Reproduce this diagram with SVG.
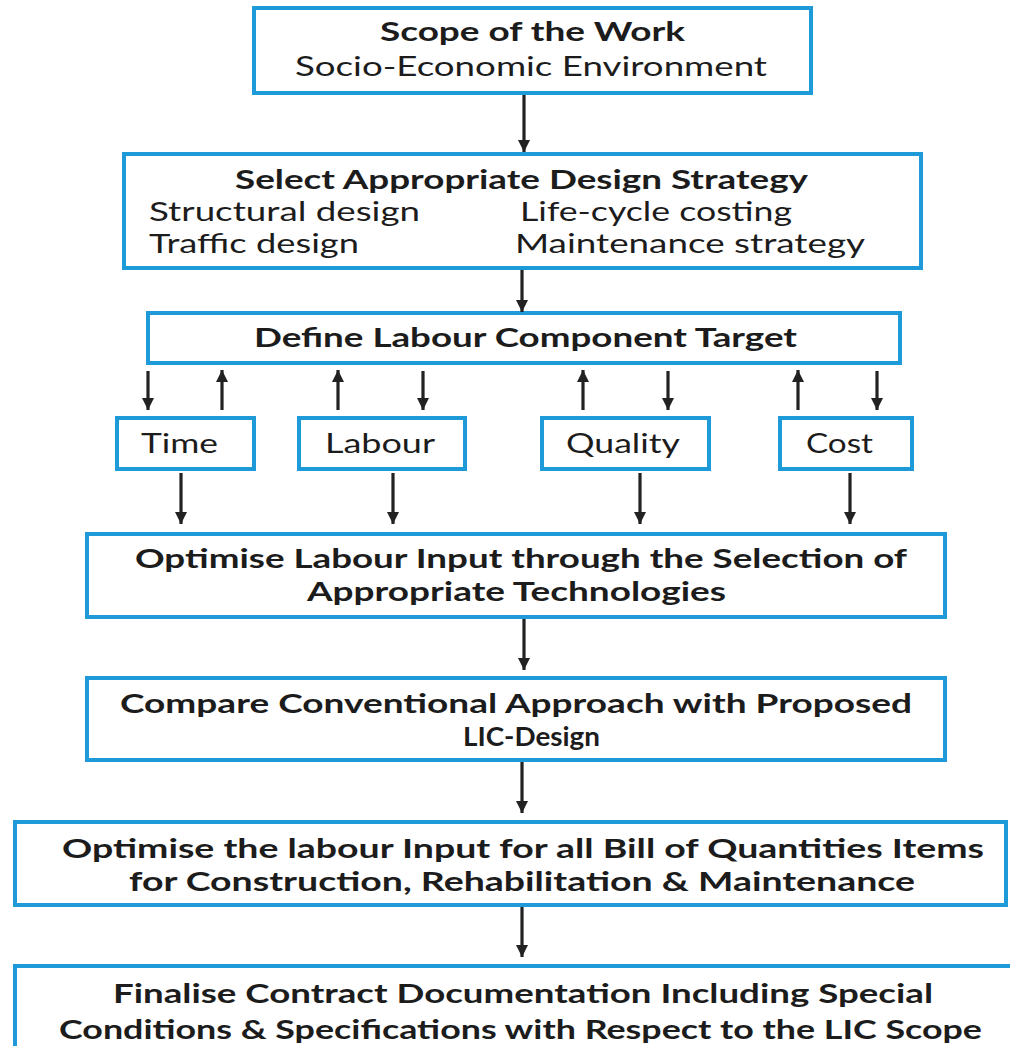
<svg xmlns="http://www.w3.org/2000/svg" width="1010" height="1046" viewBox="0 0 1010 1046">
<style>
.box{fill:#fff;stroke:#1f9ad8;stroke-width:4}
.t{font-family:Lato,"Open Sans","Liberation Sans",sans-serif;font-size:27px;fill:#1c1c1c}
.s{font-size:26.5px}
.b{font-weight:700}
.c{stroke:#222;stroke-width:3.2;fill:none}
</style>
<defs>
<marker id="ah" markerUnits="userSpaceOnUse" markerWidth="14" markerHeight="12" refX="12" refY="6" orient="auto">
<path d="M0,0 L12,6 L0,12 Z" fill="#222"/>
</marker>
</defs>
<rect width="1010" height="1046" fill="#fff"/>

<g id="n1">
<rect class="box" x="254" y="8" width="557" height="85"/>
<text class="t b" x="380" y="41" textLength="305" lengthAdjust="spacingAndGlyphs">Scope of the Work</text>
<text class="t" x="295" y="76" textLength="472" lengthAdjust="spacingAndGlyphs">Socio-Economic Environment</text>
</g>

<g id="n2">
<rect class="box" x="124" y="154" width="797" height="114"/>
<text class="t s b" x="235" y="189" textLength="573" lengthAdjust="spacingAndGlyphs">Select Appropriate Design Strategy</text>
<text class="t s" x="149" y="221" textLength="271" lengthAdjust="spacingAndGlyphs">Structural design</text>
<text class="t s" x="520" y="221" textLength="272" lengthAdjust="spacingAndGlyphs">Life-cycle costing</text>
<text class="t s" x="149" y="253" textLength="210" lengthAdjust="spacingAndGlyphs">Traffic design</text>
<text class="t s" x="515" y="253" textLength="350" lengthAdjust="spacingAndGlyphs">Maintenance strategy</text>
</g>

<g id="n3">
<rect class="box" x="148" y="313" width="752" height="50"/>
<text class="t b" x="254" y="347" textLength="543" lengthAdjust="spacingAndGlyphs">Define Labour Component Target</text>
</g>

<g id="n_time">
<rect class="box" x="117" y="418" width="137" height="51"/>
<text class="t" x="141" y="453" textLength="77" lengthAdjust="spacingAndGlyphs">Time</text>
</g>
<g id="n_labour">
<rect class="box" x="299" y="418" width="166" height="51"/>
<text class="t" x="325" y="453" textLength="110" lengthAdjust="spacingAndGlyphs">Labour</text>
</g>
<g id="n_quality">
<rect class="box" x="542" y="418" width="167" height="51"/>
<text class="t" x="566" y="453" textLength="114" lengthAdjust="spacingAndGlyphs">Quality</text>
</g>
<g id="n_cost">
<rect class="box" x="780" y="418" width="132" height="51"/>
<text class="t" x="806" y="453" textLength="67" lengthAdjust="spacingAndGlyphs">Cost</text>
</g>

<g id="n4">
<rect class="box" x="87" y="534" width="858" height="83"/>
<text class="t b" x="135" y="568" textLength="772" lengthAdjust="spacingAndGlyphs">Optimise Labour Input through the Selection of</text>
<text class="t b" x="307" y="601" textLength="419" lengthAdjust="spacingAndGlyphs">Appropriate Technologies</text>
</g>

<g id="n5">
<rect class="box" x="87" y="678" width="858" height="82"/>
<text class="t b" x="120" y="713" textLength="792" lengthAdjust="spacingAndGlyphs">Compare Conventional Approach with Proposed</text>
<text class="t b" x="463" y="746" textLength="137" lengthAdjust="spacingAndGlyphs">LIC-Design</text>
</g>

<g id="n6">
<rect class="box" x="15" y="822" width="991" height="83"/>
<text class="t b" x="62" y="858" textLength="922" lengthAdjust="spacingAndGlyphs">Optimise the labour Input for all Bill of Quantities Items</text>
<text class="t b" x="129" y="891" textLength="786" lengthAdjust="spacingAndGlyphs">for Construction, Rehabilitation &amp; Maintenance</text>
</g>

<g id="n7">
<rect class="box" x="15" y="966" width="1000" height="100"/>
<text class="t b" x="113" y="1003" textLength="820" lengthAdjust="spacingAndGlyphs">Finalise Contract Documentation Including Special</text>
<text class="t b" x="59" y="1039" textLength="923" lengthAdjust="spacingAndGlyphs">Conditions &amp; Specifications with Respect to the LIC Scope</text>
</g>

<g id="connectors">
<line class="c" x1="524" y1="95" x2="524" y2="152" marker-end="url(#ah)"/>
<line class="c" x1="522" y1="270" x2="522" y2="312" marker-end="url(#ah)"/>
<line class="c" x1="148" y1="371" x2="148" y2="410" marker-end="url(#ah)"/>
<line class="c" x1="222" y1="410" x2="222" y2="370" marker-end="url(#ah)"/>
<line class="c" x1="338" y1="410" x2="338" y2="370" marker-end="url(#ah)"/>
<line class="c" x1="423" y1="371" x2="423" y2="410" marker-end="url(#ah)"/>
<line class="c" x1="583" y1="410" x2="583" y2="370" marker-end="url(#ah)"/>
<line class="c" x1="668" y1="371" x2="668" y2="410" marker-end="url(#ah)"/>
<line class="c" x1="798" y1="410" x2="798" y2="370" marker-end="url(#ah)"/>
<line class="c" x1="877" y1="371" x2="877" y2="410" marker-end="url(#ah)"/>
<line class="c" x1="181" y1="473" x2="181" y2="524" marker-end="url(#ah)"/>
<line class="c" x1="393" y1="473" x2="393" y2="524" marker-end="url(#ah)"/>
<line class="c" x1="640" y1="473" x2="640" y2="524" marker-end="url(#ah)"/>
<line class="c" x1="850" y1="473" x2="850" y2="524" marker-end="url(#ah)"/>
<line class="c" x1="524" y1="619" x2="524" y2="670" marker-end="url(#ah)"/>
<line class="c" x1="522" y1="762" x2="522" y2="813" marker-end="url(#ah)"/>
<line class="c" x1="522" y1="907" x2="522" y2="957" marker-end="url(#ah)"/>
</g>
</svg>
